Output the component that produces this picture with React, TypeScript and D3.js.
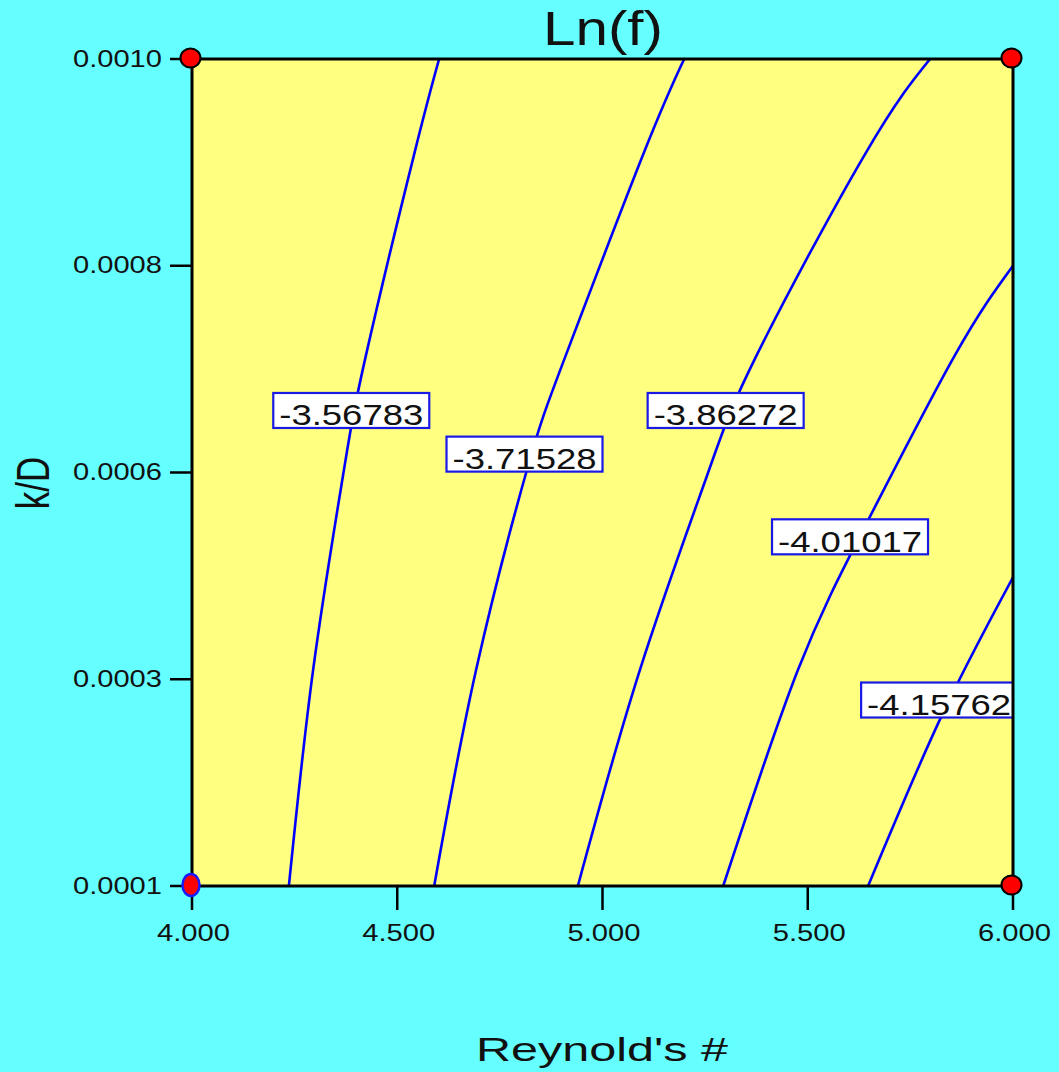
import React, { useMemo } from "react";
import * as d3 from "d3";

// Axis domains and tick labels
const xDomain: [number, number] = [4, 6];
const yDomain: [number, number] = [0.0001, 0.001];
const xTickValues = [4, 4.5, 5, 5.5, 6];
const xTickLabels = ["4.000", "4.500", "5.000", "5.500", "6.000"];
const yTickValues = [0.0001, 0.000325, 0.00055, 0.000775, 0.001];
const yTickLabels = ["0.0001", "0.0003", "0.0006", "0.0008", "0.0010"];

// Contour levels of Ln(f)
const contourLevels = [-3.56783, -3.71528, -3.86272, -4.01017, -4.15762];

// Contour paths as [Reynold's #, k/D] pairs, one list per level
const contour1: [number, number][] = [
  [4.236, 0.0001], [4.295, 0.000335], [4.368, 0.000547],
  [4.424, 0.000678], [4.541, 0.000896], [4.602, 0.001],
];
const contour2: [number, number][] = [
  [4.59, 0.0001], [4.692, 0.000335], [4.816, 0.000553],
  [4.911, 0.000678], [5.099, 0.000896], [5.199, 0.001],
];
const contour3: [number, number][] = [
  [4.94, 0.0001], [5.091, 0.000335], [5.255, 0.000547],
  [5.376, 0.000678], [5.639, 0.000896], [5.798, 0.001],
];
const contour4: [number, number][] = [
  [5.294, 0.0001], [5.476, 0.000335], [5.647, 0.000498],
  [5.859, 0.000678], [6.0, 0.000775],
];
const contour5: [number, number][] = [
  [5.647, 0.0001], [5.825, 0.000284], [6.0, 0.000436],
];
const contourPaths = [contour1, contour2, contour3, contour4, contour5];

// Label positions for each level (data units)
const labelX = [4.388, 4.81, 5.3, 5.603, 5.82];
const labelY = [0.0006175, 0.00057, 0.0006175, 0.00048, 0.0003024];

// Design points at the corners
const pointX = [4, 6, 4, 6];
const pointY = [0.001, 0.001, 0.0001, 0.0001];
const pointHighlighted = [false, false, true, false];

const W = 1059;
const H = 1072;
const PL = 192;
const PR = 1013;
const PT = 59;
const PB = 886;
const FONT = "'Liberation Sans', Arial, Helvetica, sans-serif";
const BG = "#66FFFF";
const PLOT_BG = "#FFFF80";
const LINE = "#0000FF";

export default function App() {
  const x = useMemo(() => d3.scaleLinear().domain(xDomain).range([PL, PR]), []);
  const y = useMemo(() => d3.scaleLinear().domain(yDomain).range([PB, PT]), []);
  const line = useMemo(
    () =>
      d3
        .line<[number, number]>()
        .x((d) => x(d[0]))
        .y((d) => y(d[1]))
        .curve(d3.curveNatural),
    [x, y]
  );

  const boxW = 156;
  const boxH = 35;

  return (
    <svg
      width={W}
      height={H}
      style={{ position: "absolute", left: 0, top: 0, display: "block" }}
      fontFamily={FONT}
    >
      <defs>
        <clipPath id="plotClip">
          <rect x={PL} y={PT} width={PR - PL} height={PB - PT} />
        </clipPath>
      </defs>
      <rect x={0} y={0} width={W} height={H} fill={BG} />
      <rect x={PL} y={PT} width={PR - PL} height={PB - PT} fill={PLOT_BG} />

      <g clipPath="url(#plotClip)">
        {contourPaths.map((pts, i) => (
          <path
            key={`c${i}`}
            d={line(pts) || ""}
            fill="none"
            stroke={LINE}
            strokeWidth={2.6}
          />
        ))}
        {contourLevels.map((lvl, i) => {
          const cx = x(labelX[i]);
          const cy = y(labelY[i]);
          return (
            <g key={`l${i}`}>
              <rect
                x={cx - boxW / 2}
                y={cy - boxH / 2}
                width={boxW}
                height={boxH}
                fill="#FFFFFF"
                stroke="#1a1ae6"
                strokeWidth={2.2}
              />
              <text
                x={cx - 72}
                y={cy + 15}
                fontSize={30}
                fill="#111"
                textLength={144}
                lengthAdjust="spacingAndGlyphs"
              >
                {lvl.toFixed(5)}
              </text>
            </g>
          );
        })}
      </g>

      {/* frame */}
      <rect
        x={PL}
        y={PT}
        width={PR - PL}
        height={PB - PT}
        fill="none"
        stroke="#000"
        strokeWidth={3}
      />

      {/* x axis ticks */}
      {xTickValues.map((v, i) => (
        <g key={`xt${i}`}>
          <line x1={x(v)} x2={x(v)} y1={PB} y2={PB + 24} stroke="#000" strokeWidth={2.5} />
          <text
            x={x(v) + 1.5 - 36.5}
            y={941}
            fontSize={23}
            fill="#111"
            textLength={73}
            lengthAdjust="spacingAndGlyphs"
          >
            {xTickLabels[i]}
          </text>
        </g>
      ))}

      {/* y axis ticks */}
      {yTickValues.map((v, i) => (
        <g key={`yt${i}`}>
          <line x1={PL - 22} x2={PL} y1={y(v)} y2={y(v)} stroke="#000" strokeWidth={2.5} />
          <text
            x={162 - 89}
            y={y(v) + 7.5}
            fontSize={23}
            fill="#111"
            textLength={89}
            lengthAdjust="spacingAndGlyphs"
          >
            {yTickLabels[i]}
          </text>
        </g>
      ))}

      {/* design points */}
      {pointX.map((px, i) =>
        pointHighlighted[i] ? (
          <ellipse
            key={`p${i}`}
            cx={x(px) - 1}
            cy={y(pointY[i]) - 1}
            rx={8.5}
            ry={11}
            fill="#FF0000"
            stroke="#1a1aff"
            strokeWidth={2.5}
          />
        ) : (
          <ellipse
            key={`p${i}`}
            cx={x(px) - 1.5}
            cy={y(pointY[i]) - 1}
            rx={10}
            ry={9.5}
            fill="#FF0000"
            stroke="#000"
            strokeWidth={2}
          />
        )
      )}

      {/* titles */}
      <text
        x={603 - 60}
        y={45}
        fontSize={48}
        fill="#111"
        textLength={120}
        lengthAdjust="spacingAndGlyphs"
      >
        Ln(f)
      </text>
      <text
        x={602 - 126}
        y={1061}
        fontSize={33}
        fill="#111"
        textLength={252}
        lengthAdjust="spacingAndGlyphs"
      >
        Reynold's #
      </text>
      <text
        transform="translate(49,483) scale(1.33,1) rotate(-90)"
        textAnchor="middle"
        fontSize={35}
        fill="#111"
      >
        k/D
      </text>
    </svg>
  );
}
